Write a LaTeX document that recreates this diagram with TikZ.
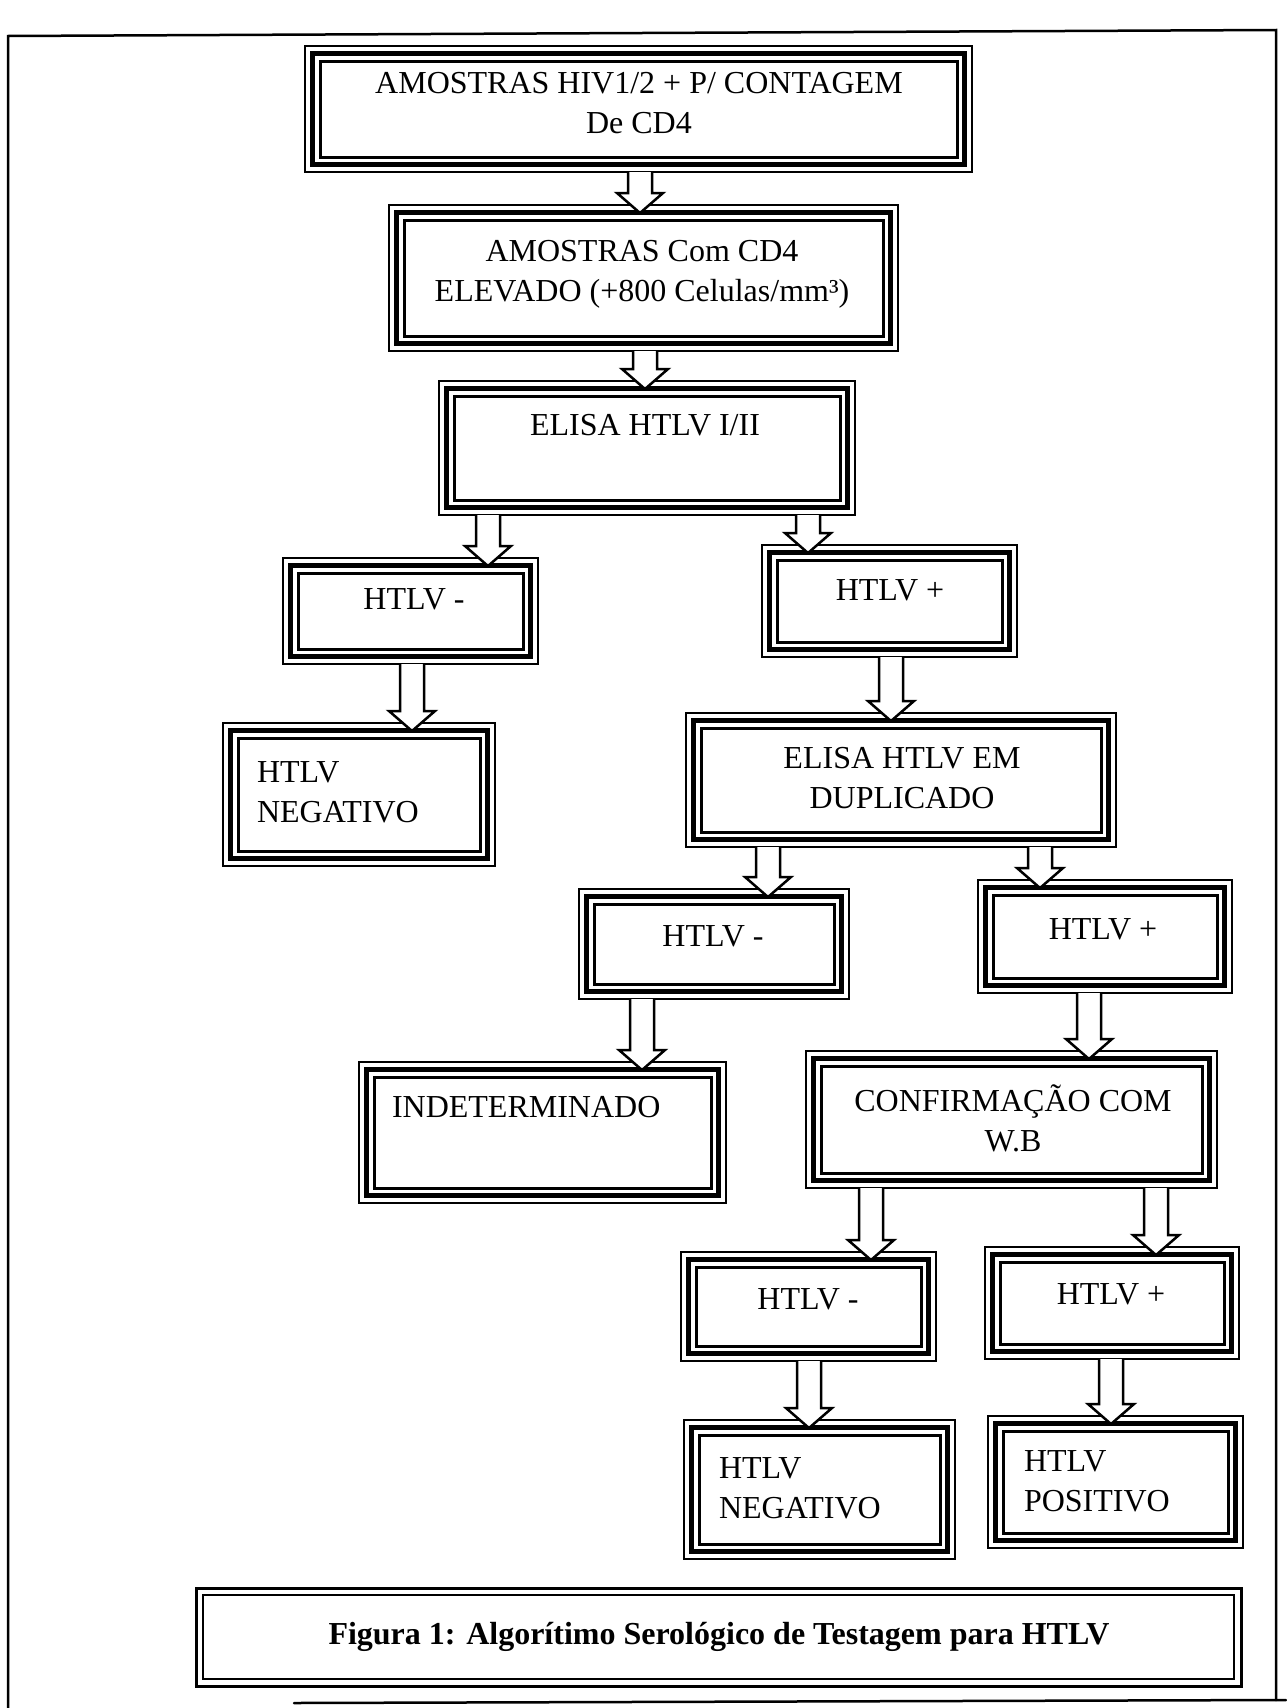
\documentclass[tikz,border=0pt]{standalone}
\usepackage{fontspec}
\setmainfont{Liberation Serif}
\usetikzlibrary{calc}
\tikzset{
  outerframe/.style={draw, rectangle, line width=2.5pt, inner sep=0pt, outer sep=0pt},
  thickframe/.style={line width=5.5pt},
  thinframe/.style={line width=3pt},
  blockarr/.style={draw, fill=white, line width=2.5pt, line join=miter},
  txt/.style={font=\fontsize{32}{40}\selectfont, inner sep=0pt, outer sep=0pt},
  pageline/.style={line width=2.5pt, line cap=round}
}
\newcommand\tribox[5]{%
  \node[outerframe, minimum width={#4-#2}, minimum height={#5-#3}, anchor=north west] (#1) at (#2,#3) {};
  \draw[thickframe] ([xshift=7.5pt,yshift=-7.5pt]#1.north west) rectangle ([xshift=-7.5pt,yshift=7.5pt]#1.south east);
  \draw[thinframe] ([xshift=15pt,yshift=-15pt]#1.north west) rectangle ([xshift=-15pt,yshift=15pt]#1.south east);
}
\newcommand\blockarrow[3]{%
  \draw[blockarr] let \p1=(#1.south), \p2=(#2.north) in
    (#3pt-12pt,\y1) -- (#3pt-12pt,\y2+12pt) -- (#3pt-23pt,\y2+12pt) -- (#3pt,\y2-8pt)
    -- (#3pt+23pt,\y2+12pt) -- (#3pt+12pt,\y2+12pt) -- (#3pt+12pt,\y1);
}
\begin{document}
\begin{tikzpicture}[x=1pt,y=-1pt]
\useasboundingbox (0,0) rectangle (1286,1708);
% page border
\coordinate (ptl) at (8,36);
\coordinate (ptr) at (1276,30);
\coordinate (pbl) at (8,1708);
\coordinate (pbr) at (1276,1700);
\coordinate (pbs) at (294,1703);
\coordinate (pbe) at (1286,1700);
\draw[pageline] (pbl) -- (ptl) -- (ptr) -- (pbr);
\draw[pageline] (pbs) -- (pbe);

% boxes
\tribox{b1}{305}{46}{972}{172}
\tribox{b2}{389}{205}{898}{351}
\tribox{b3}{439}{381}{855}{515}
\tribox{b4}{283}{558}{538}{664}
\tribox{b5}{762}{545}{1017}{657}
\tribox{b6}{223}{723}{495}{866}
\tribox{b7}{686}{713}{1116}{847}
\tribox{b8}{579}{889}{849}{999}
\tribox{b9}{978}{880}{1232}{993}
\tribox{b10}{359}{1062}{726}{1203}
\tribox{b11}{806}{1051}{1217}{1188}
\tribox{b12}{681}{1252}{936}{1361}
\tribox{b13}{985}{1247}{1239}{1359}
\tribox{b14}{684}{1420}{955}{1559}
\tribox{b15}{988}{1416}{1243}{1548}

% caption frame
\node[outerframe, line width=3pt, minimum width=1045pt, minimum height=98pt, anchor=north west] (cap) at (196,1588) {};
\draw[line width=2pt] ([xshift=7pt,yshift=-7pt]cap.north west) rectangle ([xshift=-7pt,yshift=7pt]cap.south east);

% arrows
\blockarrow{b1}{b2}{640}
\blockarrow{b2}{b3}{645}
\blockarrow{b3}{b4}{488}
\blockarrow{b3}{b5}{808}
\blockarrow{b4}{b6}{412}
\blockarrow{b5}{b7}{891}
\blockarrow{b7}{b8}{768}
\blockarrow{b7}{b9}{1040}
\blockarrow{b8}{b10}{642}
\blockarrow{b9}{b11}{1089}
\blockarrow{b11}{b12}{871}
\blockarrow{b11}{b13}{1156}
\blockarrow{b12}{b14}{809}
\blockarrow{b13}{b15}{1111}

% texts
\node[txt, align=center] (t1) at (639,103) {AMOSTRAS HIV1/2 + P/ CONTAGEM\\De CD4};
\node[txt, align=center] (t2) at (642,274) {AMOSTRAS Com CD4\\ELEVADO (+800 Celulas/mm³)};
\node[txt] (t3) at (645,425) {ELISA HTLV I/II};
\node[txt] (t4) at (414,599) {HTLV -};
\node[txt] (t5) at (890,590) {HTLV +};
\node[txt, align=left, anchor=west] (t6) at (257,792) {HTLV\\NEGATIVO};
\node[txt, align=center] (t7) at (902,778) {ELISA HTLV EM\\DUPLICADO};
\node[txt] (t8) at (713,936) {HTLV -};
\node[txt] (t9) at (1103,929) {HTLV +};
\node[txt, anchor=west] (t10) at (392,1107) {INDETERMINADO};
\node[txt, align=center] (t11) at (1013,1118) {CONFIRMAÇÃO COM\\W.B};
\node[txt] (t12) at (808,1299) {HTLV -};
\node[txt] (t13) at (1111,1294) {HTLV +};
\node[txt, align=left, anchor=west] (t14) at (719,1488) {HTLV\\NEGATIVO};
\node[txt, align=left, anchor=west] (t15) at (1024,1481) {HTLV\\POSITIVO};
\node[txt, font=\fontsize{32}{40}\selectfont\bfseries] (tcap) at (719,1637) {Figura 1: Algorítimo Serológico de Testagem para HTLV};
\end{tikzpicture}
\end{document}
